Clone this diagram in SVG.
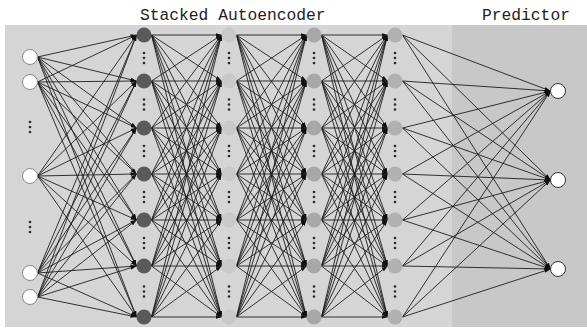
<svg xmlns="http://www.w3.org/2000/svg" width="587" height="331" viewBox="0 0 587 331">
  <style>
    .title { font-family: "Liberation Mono", "DejaVu Sans Mono", monospace; font-size: 16.3px; fill: #222; }
    .edge path { fill: none; stroke: #1e1e1e; stroke-width: 0.9; marker-end: url(#arrow); }
    .io { fill: #ffffff; stroke: #8a8a8a; stroke-width: 1; }
    .out { fill: #ffffff; stroke: #333; stroke-width: 1; }
    .h1 { fill: #5a5a5a; }
    .h2 { fill: #c9c9c9; }
    .h3 { fill: #a8a8a8; }
    .h4 { fill: #b1b1b1; }
    .dots circle { fill: #2a2a2a; }
  </style>
  <defs>
    <marker id="arrow" viewBox="0 0 6 4" refX="6" refY="2" markerWidth="6" markerHeight="4" orient="auto" markerUnits="userSpaceOnUse">
      <path d="M0 0L6 2L0 4z" fill="#111"/>
    </marker>
    <g id="vdots" class="dots">
      <circle cx="0" cy="-5" r="1.3"/>
      <circle cx="0" cy="0" r="1.3"/>
      <circle cx="0" cy="5" r="1.3"/>
    </g>
  </defs>

  <!-- panels -->
  <rect x="0" y="0" width="587" height="331" fill="#ffffff"/>
  <rect x="5" y="25" width="447" height="302" fill="#d5d5d5"/>
  <rect x="452" y="25" width="135" height="302" fill="#c8c8c8"/>

  <!-- titles -->
  <text class="title" x="140" y="20">Stacked Autoencoder</text>
  <text class="title" x="482" y="20">Predictor</text>

  <!-- connectors -->
  <g id="connectors" class="edge">
    <!-- input -> hidden 1 -->
    <path d="M37.5 57L136.5 35"/><path d="M37.5 57L136.5 81"/><path d="M37.5 57L136.5 128"/><path d="M37.5 57L136.5 174"/><path d="M37.5 57L136.5 220"/><path d="M37.5 57L136.5 266"/><path d="M37.5 57L136.5 317"/>
    <path d="M37.5 82L136.5 35"/><path d="M37.5 82L136.5 81"/><path d="M37.5 82L136.5 128"/><path d="M37.5 82L136.5 174"/><path d="M37.5 82L136.5 220"/><path d="M37.5 82L136.5 266"/><path d="M37.5 82L136.5 317"/>
    <path d="M37.5 176L136.5 35"/><path d="M37.5 176L136.5 81"/><path d="M37.5 176L136.5 128"/><path d="M37.5 176L136.5 174"/><path d="M37.5 176L136.5 220"/><path d="M37.5 176L136.5 266"/><path d="M37.5 176L136.5 317"/>
    <path d="M37.5 273L136.5 35"/><path d="M37.5 273L136.5 81"/><path d="M37.5 273L136.5 128"/><path d="M37.5 273L136.5 174"/><path d="M37.5 273L136.5 220"/><path d="M37.5 273L136.5 266"/><path d="M37.5 273L136.5 317"/>
    <path d="M37.5 297L136.5 35"/><path d="M37.5 297L136.5 81"/><path d="M37.5 297L136.5 128"/><path d="M37.5 297L136.5 174"/><path d="M37.5 297L136.5 220"/><path d="M37.5 297L136.5 266"/><path d="M37.5 297L136.5 317"/>
    <!-- hidden 1 -> hidden 2 -->
    <path d="M151.5 35L221.5 35"/><path d="M151.5 35L221.5 81"/><path d="M151.5 35L221.5 128"/><path d="M151.5 35L221.5 174"/><path d="M151.5 35L221.5 220"/><path d="M151.5 35L221.5 266"/><path d="M151.5 35L221.5 317"/>
    <path d="M151.5 81L221.5 35"/><path d="M151.5 81L221.5 81"/><path d="M151.5 81L221.5 128"/><path d="M151.5 81L221.5 174"/><path d="M151.5 81L221.5 220"/><path d="M151.5 81L221.5 266"/><path d="M151.5 81L221.5 317"/>
    <path d="M151.5 128L221.5 35"/><path d="M151.5 128L221.5 81"/><path d="M151.5 128L221.5 128"/><path d="M151.5 128L221.5 174"/><path d="M151.5 128L221.5 220"/><path d="M151.5 128L221.5 266"/><path d="M151.5 128L221.5 317"/>
    <path d="M151.5 174L221.5 35"/><path d="M151.5 174L221.5 81"/><path d="M151.5 174L221.5 128"/><path d="M151.5 174L221.5 174"/><path d="M151.5 174L221.5 220"/><path d="M151.5 174L221.5 266"/><path d="M151.5 174L221.5 317"/>
    <path d="M151.5 220L221.5 35"/><path d="M151.5 220L221.5 81"/><path d="M151.5 220L221.5 128"/><path d="M151.5 220L221.5 174"/><path d="M151.5 220L221.5 220"/><path d="M151.5 220L221.5 266"/><path d="M151.5 220L221.5 317"/>
    <path d="M151.5 266L221.5 35"/><path d="M151.5 266L221.5 81"/><path d="M151.5 266L221.5 128"/><path d="M151.5 266L221.5 174"/><path d="M151.5 266L221.5 220"/><path d="M151.5 266L221.5 266"/><path d="M151.5 266L221.5 317"/>
    <path d="M151.5 317L221.5 35"/><path d="M151.5 317L221.5 81"/><path d="M151.5 317L221.5 128"/><path d="M151.5 317L221.5 174"/><path d="M151.5 317L221.5 220"/><path d="M151.5 317L221.5 266"/><path d="M151.5 317L221.5 317"/>
    <!-- hidden 2 -> hidden 3 -->
    <path d="M236.5 35L306.5 35"/><path d="M236.5 35L306.5 81"/><path d="M236.5 35L306.5 128"/><path d="M236.5 35L306.5 174"/><path d="M236.5 35L306.5 220"/><path d="M236.5 35L306.5 266"/><path d="M236.5 35L306.5 317"/>
    <path d="M236.5 81L306.5 35"/><path d="M236.5 81L306.5 81"/><path d="M236.5 81L306.5 128"/><path d="M236.5 81L306.5 174"/><path d="M236.5 81L306.5 220"/><path d="M236.5 81L306.5 266"/><path d="M236.5 81L306.5 317"/>
    <path d="M236.5 128L306.5 35"/><path d="M236.5 128L306.5 81"/><path d="M236.5 128L306.5 128"/><path d="M236.5 128L306.5 174"/><path d="M236.5 128L306.5 220"/><path d="M236.5 128L306.5 266"/><path d="M236.5 128L306.5 317"/>
    <path d="M236.5 174L306.5 35"/><path d="M236.5 174L306.5 81"/><path d="M236.5 174L306.5 128"/><path d="M236.5 174L306.5 174"/><path d="M236.5 174L306.5 220"/><path d="M236.5 174L306.5 266"/><path d="M236.5 174L306.5 317"/>
    <path d="M236.5 220L306.5 35"/><path d="M236.5 220L306.5 81"/><path d="M236.5 220L306.5 128"/><path d="M236.5 220L306.5 174"/><path d="M236.5 220L306.5 220"/><path d="M236.5 220L306.5 266"/><path d="M236.5 220L306.5 317"/>
    <path d="M236.5 266L306.5 35"/><path d="M236.5 266L306.5 81"/><path d="M236.5 266L306.5 128"/><path d="M236.5 266L306.5 174"/><path d="M236.5 266L306.5 220"/><path d="M236.5 266L306.5 266"/><path d="M236.5 266L306.5 317"/>
    <path d="M236.5 317L306.5 35"/><path d="M236.5 317L306.5 81"/><path d="M236.5 317L306.5 128"/><path d="M236.5 317L306.5 174"/><path d="M236.5 317L306.5 220"/><path d="M236.5 317L306.5 266"/><path d="M236.5 317L306.5 317"/>
    <!-- hidden 3 -> hidden 4 -->
    <path d="M321.5 35L387.5 35"/><path d="M321.5 35L387.5 81"/><path d="M321.5 35L387.5 128"/><path d="M321.5 35L387.5 174"/><path d="M321.5 35L387.5 220"/><path d="M321.5 35L387.5 266"/><path d="M321.5 35L387.5 317"/>
    <path d="M321.5 81L387.5 35"/><path d="M321.5 81L387.5 81"/><path d="M321.5 81L387.5 128"/><path d="M321.5 81L387.5 174"/><path d="M321.5 81L387.5 220"/><path d="M321.5 81L387.5 266"/><path d="M321.5 81L387.5 317"/>
    <path d="M321.5 128L387.5 35"/><path d="M321.5 128L387.5 81"/><path d="M321.5 128L387.5 128"/><path d="M321.5 128L387.5 174"/><path d="M321.5 128L387.5 220"/><path d="M321.5 128L387.5 266"/><path d="M321.5 128L387.5 317"/>
    <path d="M321.5 174L387.5 35"/><path d="M321.5 174L387.5 81"/><path d="M321.5 174L387.5 128"/><path d="M321.5 174L387.5 174"/><path d="M321.5 174L387.5 220"/><path d="M321.5 174L387.5 266"/><path d="M321.5 174L387.5 317"/>
    <path d="M321.5 220L387.5 35"/><path d="M321.5 220L387.5 81"/><path d="M321.5 220L387.5 128"/><path d="M321.5 220L387.5 174"/><path d="M321.5 220L387.5 220"/><path d="M321.5 220L387.5 266"/><path d="M321.5 220L387.5 317"/>
    <path d="M321.5 266L387.5 35"/><path d="M321.5 266L387.5 81"/><path d="M321.5 266L387.5 128"/><path d="M321.5 266L387.5 174"/><path d="M321.5 266L387.5 220"/><path d="M321.5 266L387.5 266"/><path d="M321.5 266L387.5 317"/>
    <path d="M321.5 317L387.5 35"/><path d="M321.5 317L387.5 81"/><path d="M321.5 317L387.5 128"/><path d="M321.5 317L387.5 174"/><path d="M321.5 317L387.5 220"/><path d="M321.5 317L387.5 266"/><path d="M321.5 317L387.5 317"/>
    <!-- hidden 4 -> predictor outputs -->
    <path d="M402.5 35L550.5 91"/><path d="M402.5 35L550.5 180"/><path d="M402.5 35L550.5 269"/>
    <path d="M402.5 81L550.5 91"/><path d="M402.5 81L550.5 180"/><path d="M402.5 81L550.5 269"/>
    <path d="M402.5 128L550.5 91"/><path d="M402.5 128L550.5 180"/><path d="M402.5 128L550.5 269"/>
    <path d="M402.5 174L550.5 91"/><path d="M402.5 174L550.5 180"/><path d="M402.5 174L550.5 269"/>
    <path d="M402.5 220L550.5 91"/><path d="M402.5 220L550.5 180"/><path d="M402.5 220L550.5 269"/>
    <path d="M402.5 266L550.5 91"/><path d="M402.5 266L550.5 180"/><path d="M402.5 266L550.5 269"/>
    <path d="M402.5 317L550.5 91"/><path d="M402.5 317L550.5 180"/><path d="M402.5 317L550.5 269"/>
  </g>

  <!-- input layer -->
  <g id="in1"><circle class="io" cx="30" cy="57" r="7.5"/></g>
  <g id="in2"><circle class="io" cx="30" cy="82" r="7.5"/></g>
  <g id="in3"><circle class="io" cx="30" cy="176" r="7.5"/></g>
  <g id="in4"><circle class="io" cx="30" cy="273" r="7.5"/></g>
  <g id="in5"><circle class="io" cx="30" cy="297" r="7.5"/></g>
  <use href="#vdots" x="30" y="127"/>
  <use href="#vdots" x="30" y="227"/>

  <!-- hidden layer 1 -->
  <g id="h1-1"><circle class="h1" cx="144" cy="35" r="7.5"/></g>
  <g id="h1-2"><circle class="h1" cx="144" cy="81" r="7.5"/></g>
  <g id="h1-3"><circle class="h1" cx="144" cy="128" r="7.5"/></g>
  <g id="h1-4"><circle class="h1" cx="144" cy="174" r="7.5"/></g>
  <g id="h1-5"><circle class="h1" cx="144" cy="220" r="7.5"/></g>
  <g id="h1-6"><circle class="h1" cx="144" cy="266" r="7.5"/></g>
  <g id="h1-7"><circle class="h1" cx="144" cy="317" r="7.5"/></g>

  <!-- hidden layer 2 -->
  <g id="h2-1"><circle class="h2" cx="229" cy="35" r="7.5"/></g>
  <g id="h2-2"><circle class="h2" cx="229" cy="81" r="7.5"/></g>
  <g id="h2-3"><circle class="h2" cx="229" cy="128" r="7.5"/></g>
  <g id="h2-4"><circle class="h2" cx="229" cy="174" r="7.5"/></g>
  <g id="h2-5"><circle class="h2" cx="229" cy="220" r="7.5"/></g>
  <g id="h2-6"><circle class="h2" cx="229" cy="266" r="7.5"/></g>
  <g id="h2-7"><circle class="h2" cx="229" cy="317" r="7.5"/></g>

  <!-- hidden layer 3 -->
  <g id="h3-1"><circle class="h3" cx="314" cy="35" r="7.5"/></g>
  <g id="h3-2"><circle class="h3" cx="314" cy="81" r="7.5"/></g>
  <g id="h3-3"><circle class="h3" cx="314" cy="128" r="7.5"/></g>
  <g id="h3-4"><circle class="h3" cx="314" cy="174" r="7.5"/></g>
  <g id="h3-5"><circle class="h3" cx="314" cy="220" r="7.5"/></g>
  <g id="h3-6"><circle class="h3" cx="314" cy="266" r="7.5"/></g>
  <g id="h3-7"><circle class="h3" cx="314" cy="317" r="7.5"/></g>

  <!-- hidden layer 4 -->
  <g id="h4-1"><circle class="h4" cx="395" cy="35" r="7.5"/></g>
  <g id="h4-2"><circle class="h4" cx="395" cy="81" r="7.5"/></g>
  <g id="h4-3"><circle class="h4" cx="395" cy="128" r="7.5"/></g>
  <g id="h4-4"><circle class="h4" cx="395" cy="174" r="7.5"/></g>
  <g id="h4-5"><circle class="h4" cx="395" cy="220" r="7.5"/></g>
  <g id="h4-6"><circle class="h4" cx="395" cy="266" r="7.5"/></g>
  <g id="h4-7"><circle class="h4" cx="395" cy="317" r="7.5"/></g>

  <!-- ellipses between hidden units -->
  <use href="#vdots" x="144" y="58"/><use href="#vdots" x="144" y="104.5"/><use href="#vdots" x="144" y="151"/><use href="#vdots" x="144" y="197"/><use href="#vdots" x="144" y="243"/><use href="#vdots" x="144" y="291.5"/>
  <use href="#vdots" x="229" y="58"/><use href="#vdots" x="229" y="104.5"/><use href="#vdots" x="229" y="151"/><use href="#vdots" x="229" y="197"/><use href="#vdots" x="229" y="243"/><use href="#vdots" x="229" y="291.5"/>
  <use href="#vdots" x="314" y="58"/><use href="#vdots" x="314" y="104.5"/><use href="#vdots" x="314" y="151"/><use href="#vdots" x="314" y="197"/><use href="#vdots" x="314" y="243"/><use href="#vdots" x="314" y="291.5"/>
  <use href="#vdots" x="395" y="58"/><use href="#vdots" x="395" y="104.5"/><use href="#vdots" x="395" y="151"/><use href="#vdots" x="395" y="197"/><use href="#vdots" x="395" y="243"/><use href="#vdots" x="395" y="291.5"/>

  <!-- predictor outputs -->
  <g id="out1"><circle class="out" cx="558" cy="91" r="7.5"/></g>
  <g id="out2"><circle class="out" cx="558" cy="180" r="7.5"/></g>
  <g id="out3"><circle class="out" cx="558" cy="269" r="7.5"/></g>
</svg>
